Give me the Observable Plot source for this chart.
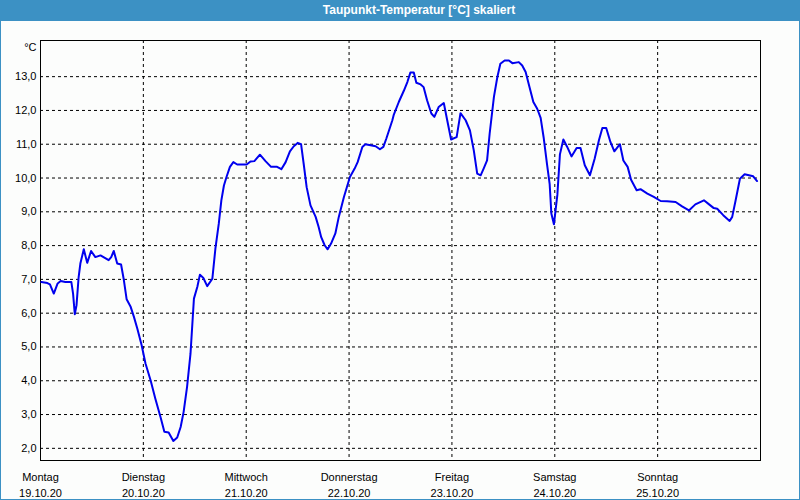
<!DOCTYPE html>
<html>
<head>
<meta charset="utf-8">
<script src="https://cdn.jsdelivr.net/npm/d3@7"></script>
<script src="https://cdn.jsdelivr.net/npm/@observablehq/plot@0.6"></script>
<style>
  html, body { margin: 0; padding: 0; background: #fcfdfc; }
  #wrap { position: relative; width: 800px; height: 500px; overflow: hidden; background: #fcfdfc; }
  #title { position: absolute; left: 0; top: 0; width: 800px; height: 21px; background: #3c91c4;
           color: #fff; font: bold 12px "Liberation Sans", sans-serif; line-height: 21px;
           text-align: center; box-sizing: border-box; padding-left: 38px; }
  #chart { position: absolute; left: 0; top: 21px; }
  #border { position: absolute; left: 0; top: 0; width: 800px; height: 500px; box-sizing: border-box;
            border: 1px solid #3c91c4; pointer-events: none; }
</style>
</head>
<body>
<div id="wrap">
  <div id="title">Taupunkt-Temperatur [°C] skaliert</div>
  <div id="chart"></div>
  <div id="border"></div>
</div>
<script>
// hours since Monday 19.10.2020 00:00
const hours = [0.2,1.6,2.2,3.1,4.0,4.7,5.8,7.2,7.6,8.0,8.4,8.9,9.3,10.1,10.9,11.8,12.8,14.0,15.2,15.9,16.5,17.1,17.9,18.8,19.4,20.1,21.0,21.8,22.6,23.6,24.5,25.7,26.8,28.0,28.9,29.9,31.0,31.9,32.7,33.4,34.2,35.0,35.8,36.6,37.2,38.0,38.9,40.1,40.8,41.6,42.2,42.8,43.4,44.2,45.0,45.9,48.1,49.0,49.9,51.2,52.5,53.8,55.2,56.2,57.2,58.2,59.1,60.0,60.8,61.4,62.1,63.0,64.2,64.9,65.5,66.3,67.0,67.8,68.8,69.6,70.8,72.2,73.3,74.0,75.1,75.8,77.0,78.2,79.2,80.0,80.7,82.1,82.4,83.6,84.8,85.6,86.3,87.1,87.7,88.7,89.4,90.2,91.2,91.9,92.9,94.1,94.9,95.8,97.1,98.0,99.2,100.2,101.1,101.9,102.7,103.4,104.2,104.8,105.8,106.6,107.3,108.3,109.3,110.1,111.6,112.4,113.2,113.9,115.0,115.9,116.7,117.4,118.2,118.8,119.2,119.8,120.6,121.2,122.0,122.9,123.9,125.1,126.0,127.0,128.2,129.3,130.3,131.1,132.0,133.0,133.9,135.2,136.0,137.0,137.8,139.1,140.0,141.6,143.1,144.7,146.2,148.2,149.7,151.3,152.8,154.8,156.0,157.1,157.9,159.3,160.8,161.4,162.2,163.2,164.3,165.3,166.3,167.2];
const values = [6.92,6.89,6.85,6.58,6.88,6.95,6.92,6.92,6.58,5.97,6.23,7.07,7.47,7.89,7.49,7.84,7.66,7.71,7.62,7.57,7.66,7.84,7.47,7.44,7.02,6.41,6.20,5.89,5.54,5.05,4.51,4.01,3.47,2.93,2.49,2.47,2.22,2.32,2.63,3.08,3.82,4.80,6.43,6.78,7.14,7.04,6.80,7.02,7.90,8.65,9.34,9.78,10.03,10.33,10.47,10.40,10.40,10.49,10.50,10.69,10.50,10.33,10.33,10.26,10.47,10.79,10.94,11.04,11.00,10.43,9.73,9.19,8.85,8.55,8.25,8.01,7.89,8.06,8.36,8.85,9.44,10.03,10.28,10.47,10.92,11.00,10.97,10.94,10.85,10.92,11.17,11.71,11.86,12.25,12.59,12.84,13.12,13.12,12.82,12.77,12.69,12.30,11.91,11.81,12.10,12.22,11.71,11.14,11.21,11.92,11.71,11.41,10.82,10.13,10.08,10.28,10.52,11.31,12.40,12.99,13.38,13.48,13.48,13.40,13.43,13.33,13.14,12.79,12.25,12.05,11.78,11.20,10.40,9.83,8.95,8.63,9.50,10.70,11.14,10.92,10.64,10.89,10.89,10.38,10.08,10.57,11.12,11.48,11.48,11.06,10.79,11.00,10.52,10.33,9.95,9.64,9.67,9.54,9.44,9.32,9.31,9.29,9.16,9.04,9.22,9.34,9.22,9.11,9.09,8.90,8.73,8.85,9.34,9.98,10.11,10.08,10.05,9.91];
const dayNames = ["Montag","Dienstag","Mittwoch","Donnerstag","Freitag","Samstag","Sonntag"];
const dayDates = ["19.10.20","20.10.20","21.10.20","22.10.20","23.10.20","24.10.20","25.10.20"];
const yTicks = [2,3,4,5,6,7,8,9,10,11,12,13];

const start = Date.UTC(2020, 9, 19);
const data = hours.map((h, i) => ({t: new Date(start + h * 3600e3), v: values[i]}));
const dayTicks = dayNames.map((_, i) => new Date(start + i * 864e5));
const dayLabel = d => {
  const i = Math.round((d - start) / 864e5);
  return dayNames[i] + "\n" + dayDates[i];
};
const fmtY = d => d.toFixed(1).replace(".", ",");

const chart = Plot.plot({
  width: 800,
  height: 479,
  marginTop: 19,
  marginBottom: 40,
  marginLeft: 40,
  marginRight: 40,
  style: {background: "transparent", fontFamily: "'Liberation Sans', sans-serif", fontSize: "11px", color: "black"},
  x: {type: "utc", domain: [new Date(start), new Date(start + 7 * 864e5)]},
  y: {domain: [1.64, 14.07]},
  marks: [
    Plot.gridY(yTicks, {stroke: "black", strokeOpacity: 1, strokeDasharray: "3,3"}),
    Plot.gridX(dayTicks, {stroke: "black", strokeOpacity: 1, strokeDasharray: "3,3"}),
    Plot.frame({stroke: "black"}),
    Plot.axisY(yTicks, {tickSize: 0, tickPadding: 4, tickFormat: fmtY, label: null}),
    Plot.axisX(dayTicks, {tickSize: 0, tickPadding: 10, tickFormat: dayLabel, label: null, lineHeight: 1.4}),
    Plot.lineY(data, {x: "t", y: "v", stroke: "#0000ee", strokeWidth: 2}),
    Plot.text(["°C"], {frameAnchor: "top-left", textAnchor: "end", lineAnchor: "top", dx: -4, dy: 3})
  ]
});
document.getElementById("chart").appendChild(chart);
</script>
</body>
</html>
